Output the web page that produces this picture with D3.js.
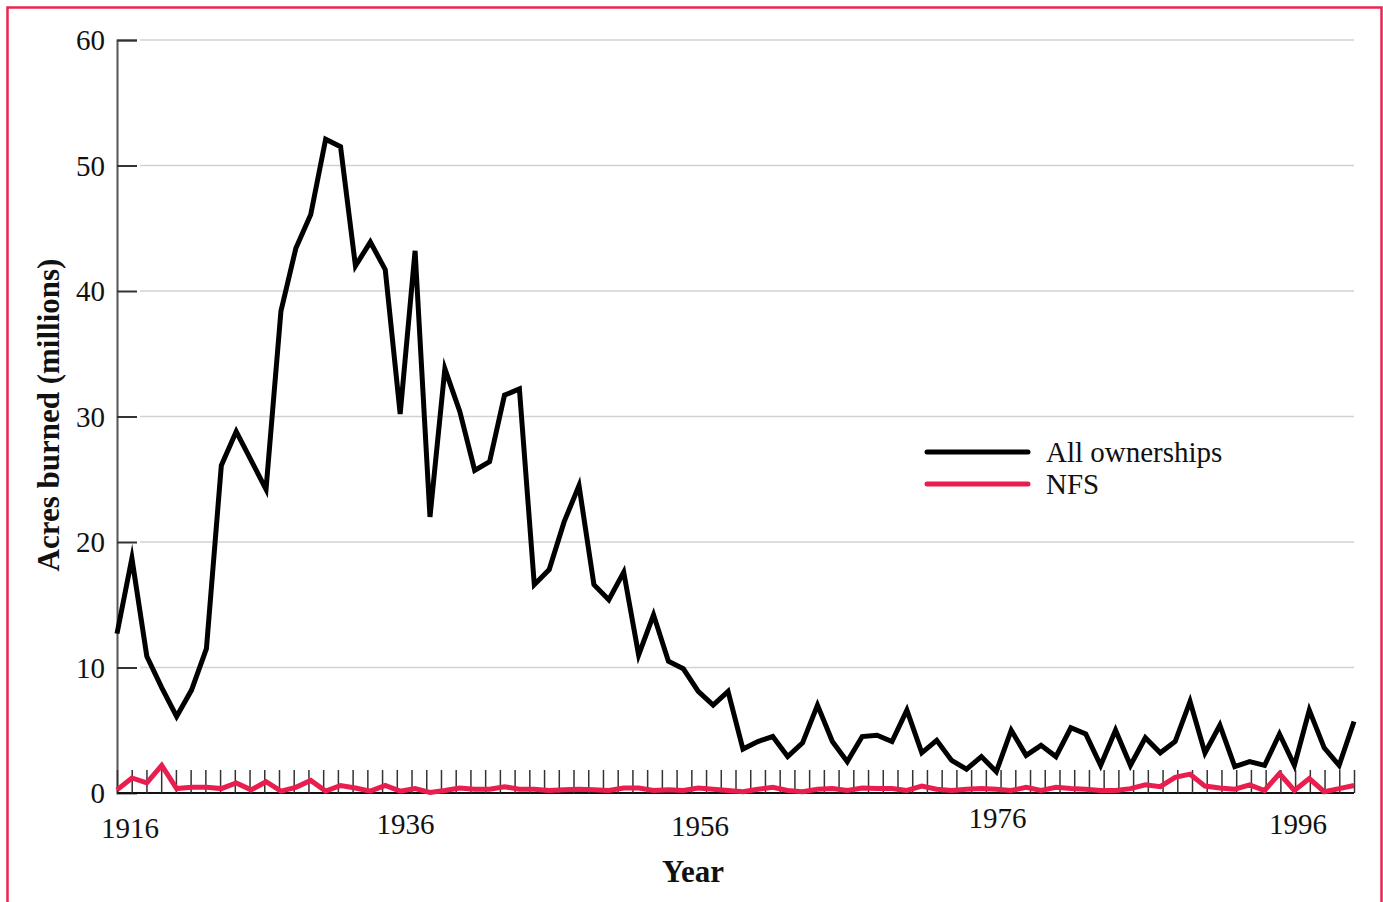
<!DOCTYPE html>
<html>
<head>
<meta charset="utf-8">
<script src="https://cdn.jsdelivr.net/npm/d3@7"></script>
<style>
  html, body { margin: 0; padding: 0; background: #fff; }
  svg { display: block; }
  text { font-family: "Liberation Serif", "DejaVu Serif", serif; }
</style>
</head>
<body>
<svg id="chart" width="1383" height="902"></svg>
<script>
// ---- data ----
const firstYear = 1916;
const lastYear = 1999;
const tickLastYear = 2000;
const allOwnerships = [
  12.7, 18.7, 10.9, 8.4, 6.1, 8.2, 11.5, 26.1, 28.8, 26.5,
  24.2, 38.4, 43.4, 46.1, 52.1, 51.5, 42.0, 43.9, 41.7, 30.2,
  43.2, 22.0, 33.8, 30.4, 25.7, 26.4, 31.7, 32.2, 16.6, 17.8,
  21.6, 24.5, 16.6, 15.4, 17.6, 11.0, 14.2, 10.5, 9.9, 8.1,
  7.0, 8.1, 3.5, 4.1, 4.5, 2.9, 4.0, 7.0, 4.1, 2.5,
  4.5, 4.6, 4.1, 6.6, 3.2, 4.2, 2.6, 1.9, 2.9, 1.7,
  5.0, 3.0, 3.8, 2.9, 5.2, 4.7, 2.2, 5.0, 2.2, 4.4,
  3.2, 4.1, 7.3, 3.2, 5.4, 2.1, 2.5, 2.2, 4.7, 2.2,
  6.6, 3.6, 2.2, 5.7
];
const nfs = [
  0.25, 1.2, 0.8, 2.2, 0.35, 0.45, 0.45, 0.35, 0.8, 0.25,
  0.9, 0.15, 0.45, 1.0, 0.15, 0.6, 0.4, 0.15, 0.6, 0.15,
  0.35, 0.05, 0.2, 0.4, 0.3, 0.3, 0.5, 0.3, 0.3, 0.2,
  0.25, 0.3, 0.25, 0.2, 0.4, 0.4, 0.2, 0.25, 0.2, 0.4,
  0.3, 0.2, 0.1, 0.3, 0.45, 0.2, 0.1, 0.3, 0.35, 0.2,
  0.4, 0.35, 0.35, 0.2, 0.55, 0.3, 0.2, 0.3, 0.35, 0.3,
  0.2, 0.45, 0.2, 0.45, 0.35, 0.3, 0.2, 0.2, 0.35, 0.65,
  0.5, 1.25, 1.5, 0.55, 0.4, 0.3, 0.65, 0.2, 1.55, 0.2,
  1.15, 0.1, 0.35, 0.6
];
const yTicks = [0, 10, 20, 30, 40, 50, 60];
const xLabelYears = [1916, 1936, 1956, 1976, 1996];
const seriesNames = ["All ownerships", "NFS"];
const seriesColors = ["#000000", "#e91e4f"];
const yTitle = "Acres burned (millions)";
const xTitle = "Year";

// ---- drawing ----
const svg = d3.select("#chart");
const years = d3.range(firstYear, lastYear + 1);

const x = d3.scaleLinear().domain([firstYear, lastYear]).range([117, 1354]);
const xt = d3.scaleLinear().domain([firstYear, tickLastYear]).range([117, 1354]);
const y = d3.scaleLinear().domain([0, 60]).range([793, 40]);

// frame
svg.append("rect")
  .attr("x", 7.5).attr("y", 7.5)
  .attr("width", 1374).attr("height", 940)
  .attr("fill", "none").attr("stroke", "#ec2453").attr("stroke-width", 2.5);

// gridlines
svg.append("g").selectAll("line")
  .data(yTicks.filter(d => d > 0))
  .join("line")
  .attr("x1", 140).attr("x2", 1354)
  .attr("y1", d => y(d)).attr("y2", d => y(d))
  .attr("stroke", "#d2d2d2").attr("stroke-width", 1.5);

// y axis
const yAxis = d3.axisRight(y).tickValues(yTicks).tickSize(20).tickFormat("");
const gy = svg.append("g").attr("transform", "translate(117,0)").call(yAxis);
gy.select(".domain").attr("stroke", "#555").attr("stroke-width", 2);
gy.selectAll(".tick line").attr("stroke", "#333").attr("stroke-width", 2);
gy.selectAll(".tick").filter(d => d === 0).select("line").remove();

svg.append("g").selectAll("text")
  .data(yTicks)
  .join("text")
  .attr("x", 105)
  .attr("y", d => y(d) + 10)
  .attr("text-anchor", "end")
  .attr("font-size", 29)
  .attr("fill", "#111")
  .text(d => d);

// x axis with yearly ticks (pointing up)
const xAxis = d3.axisTop(xt).tickValues(d3.range(firstYear, tickLastYear + 1)).tickSize(23).tickFormat("").tickSizeOuter(0);
const gx = svg.append("g").attr("transform", "translate(0,793)").call(xAxis);
gx.select(".domain").attr("stroke", "#111").attr("stroke-width", 2).attr("d", `M117,0H1354`);
gx.selectAll(".tick line").attr("stroke", "#333").attr("stroke-width", 1.5);

const labelNudge = {1916: {dx: 13, dy: 4}, 1936: {dx: -6, dy: 0}, 1956: {dx: -6, dy: 2}, 1976: {dx: -3, dy: -6}, 1996: {dx: 3, dy: 0}};
svg.append("g").selectAll("text")
  .data(xLabelYears)
  .join("text")
  .attr("x", d => xt(d) + (labelNudge[d] ? labelNudge[d].dx : 0))
  .attr("y", d => 834 + (labelNudge[d] ? labelNudge[d].dy : 0))
  .attr("text-anchor", "middle")
  .attr("font-size", 29)
  .attr("fill", "#111")
  .text(d => d);

// axis titles
svg.append("text")
  .attr("transform", "translate(59,415) rotate(-90)")
  .attr("text-anchor", "middle")
  .attr("font-size", 31)
  .attr("font-weight", "bold")
  .attr("fill", "#111")
  .text(yTitle);

svg.append("text")
  .attr("x", 693).attr("y", 882)
  .attr("text-anchor", "middle")
  .attr("font-size", 31)
  .attr("font-weight", "bold")
  .attr("fill", "#111")
  .text(xTitle);

// lines
const line = d3.line().x((d, i) => x(years[i])).y(d => y(d));
[allOwnerships, nfs].forEach((s, i) => {
  svg.append("path")
    .datum(s)
    .attr("d", line)
    .attr("fill", "none")
    .attr("stroke", seriesColors[i])
    .attr("stroke-width", 5)
    .attr("stroke-linejoin", "miter")
    .attr("stroke-miterlimit", 6);
});

// legend
const lg = svg.append("g").attr("transform", "translate(927,452)");
seriesNames.forEach((name, i) => {
  lg.append("line")
    .attr("x1", 0).attr("x2", 101)
    .attr("y1", i * 32).attr("y2", i * 32)
    .attr("stroke", seriesColors[i]).attr("stroke-width", 5)
    .attr("stroke-linecap", "round");
  lg.append("text")
    .attr("x", 119).attr("y", i * 32 + 10)
    .attr("font-size", 29)
    .attr("fill", "#111")
    .text(name);
});
</script>
</body>
</html>
